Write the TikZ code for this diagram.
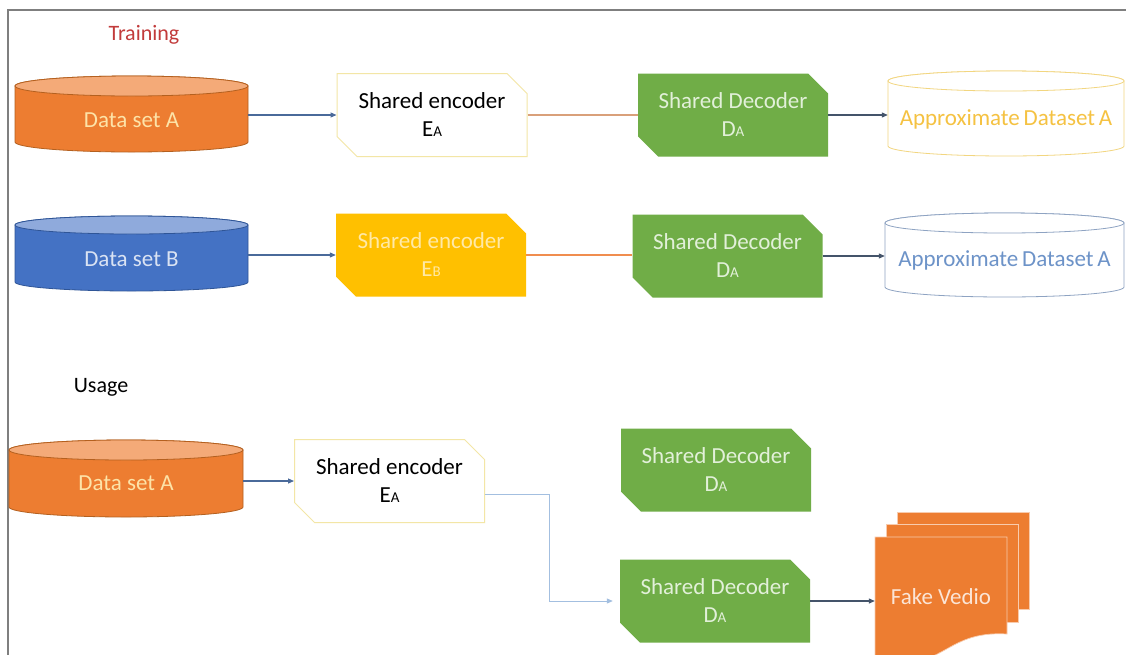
\documentclass[tikz,border=0pt]{standalone}
\usepackage{fontspec}
\setmainfont{Carlito}
\usetikzlibrary{shapes.misc,arrows.meta,calc}
\definecolor{orangeF}{HTML}{ED7D31}
\definecolor{orangeT}{HTML}{F4AA78}
\definecolor{orangeD}{HTML}{B4601F}
\definecolor{blueF}{HTML}{4472C4}
\definecolor{blueT}{HTML}{8FAADC}
\definecolor{blueD}{HTML}{2F5597}
\definecolor{greenF}{HTML}{70AD47}
\definecolor{greenT}{HTML}{E2F0D9}
\definecolor{goldF}{HTML}{FFC000}
\definecolor{goldT}{HTML}{FFE9A6}
\definecolor{encline}{HTML}{F3E6A6}
\definecolor{dsA}{HTML}{FDE3A8}
\definecolor{dsB}{HTML}{DAE3F3}
\definecolor{appAline}{HTML}{F2D680}
\definecolor{appAtext}{HTML}{F5C242}
\definecolor{appBline}{HTML}{8EA3C2}
\definecolor{appBtext}{HTML}{6D93C8}
\definecolor{arrowA}{HTML}{4A6A9A}
\definecolor{arrowB}{HTML}{44546A}
\definecolor{lineA}{HTML}{D9A07A}
\definecolor{lineB}{HTML}{F08D4F}
\definecolor{lineC}{HTML}{A3BFE0}
\definecolor{redT}{HTML}{C23B3B}
\definecolor{frameC}{HTML}{7F7F7F}
\definecolor{docline}{HTML}{F8CBAD}
\definecolor{fakeT}{HTML}{FBE5D6}
\newcommand\sm[1]{{\fontsize{15}{15}\selectfont #1}}
% x1 y1 x2 y2 ry bodyfill topfill drawcolor
\newcommand\cyldraw[8]{%
  \pgfmathsetmacro\cxm{(#1+#3)/2}%
  \pgfmathsetmacro\crx{(#3-#1)/2}%
  \path[fill=#6,draw=#8,line width=0.8pt] (#1,#2+#5) -- (#1,#4-#5)
     arc[start angle=180,end angle=360,x radius=\crx pt,y radius=#5pt]
     -- (#3,#2+#5)
     arc[start angle=0,end angle=180,x radius=\crx pt,y radius=#5pt] -- cycle;
  \path[fill=#7,draw=#8,line width=0.8pt] (\cxm,#2+#5) ellipse[x radius=\crx pt,y radius=#5pt];
}
\tikzset{
  base/.style={font=\fontsize{23}{28}\selectfont, align=center, inner sep=0pt},
  snip/.style={base, chamfered rectangle, chamfered rectangle corners={north east,south west},
     chamfered rectangle xsep=10pt, chamfered rectangle ysep=10pt,
     minimum width=190pt, minimum height=83pt},
  enc/.style={snip, fill=white, draw=encline, line width=1pt, text=black},
  encb/.style={snip, fill=goldF, text=goldT},
  dec/.style={snip, fill=greenF, text=greenT},
  holder/.style={base, rectangle, minimum height=60pt},
  arr/.style={-{Triangle[length=6pt,width=5pt]}, line width=1.1pt, draw=arrowA},
  arrd/.style={-{Triangle[length=6pt,width=5pt]}, line width=1.1pt, draw=arrowB},
  link/.style={line width=1.2pt},
  title/.style={base, font=\fontsize{22}{26}\selectfont}
}
\begin{document}
\begin{tikzpicture}[x=1pt,y=-1pt]
\useasboundingbox (0,0) rectangle (1126,654);
\fill[white] (0,0) rectangle (1126,654);
\draw[frameC, line width=1.5pt] (8,660) -- (8,10) -- (1130,10);

\node[title, text=redT] (ttrain) at (144,35) {Training};
\node[title, text=black] (tusage) at (101,387) {Usage};

% ---- row 1
\cyldraw{15}{76}{248}{152}{10}{orangeF}{orangeT}{orangeD}
\node[holder, minimum width=233pt, text=dsA] (cylA1) at (131.5,120) {Data set A};
\node[enc] (encA1) at (432,115) {Shared encoder\\E\sm{A}};
\node[dec] (decA1) at (733,115) {Shared Decoder\\D\sm{A}};
\cyldraw{888}{71}{1124}{156}{10}{white}{white}{appAline}
\node[holder, minimum width=236pt, text=appAtext] (appA1) at (1006,119) {Approximate\,Dataset\,A};

\draw[arr] (cylA1.east |- encA1.west) -- (encA1.west);
\draw[link, lineA] (encA1.east) -- (decA1.west |- encA1.east);
\draw[arrd] (decA1.east) -- (appA1.west |- decA1.east);

% ---- row 2
\cyldraw{15}{216}{248}{291}{9}{blueF}{blueT}{blueD}
\node[holder, minimum width=233pt, text=dsB] (cylB) at (131.5,259) {Data set B};
\node[encb] (encB) at (431,255) {Shared encoder\\E\sm{B}};
\node[dec] (decA2) at (727.5,256) {Shared Decoder\\D\sm{A}};
\cyldraw{885}{213}{1124}{297}{10}{white}{white}{appBline}
\node[holder, minimum width=239pt, text=appBtext] (appA2) at (1004.5,260) {Approximate\,Dataset\,A};

\draw[arr] (cylB.east |- encB.west) -- (encB.west);
\draw[link, lineB] (encB.east) -- (decA2.west |- encB.east);
\draw[arrd] (decA2.east) -- (appA2.west |- decA2.east);

% ---- row 3
\cyldraw{9}{440}{243}{517}{10}{orangeF}{orangeT}{orangeD}
\node[holder, minimum width=234pt, text=dsA] (cylA3) at (126,483) {Data set A};
\node[enc] (encA3) at (389.5,481) {Shared encoder\\E\sm{A}};
\node[dec] (decT) at (716,470) {Shared Decoder\\D\sm{A}};
\node[dec] (decB) at (715,601) {Shared Decoder\\D\sm{A}};

% fake video multi-document
\path[fill=orangeF, draw=docline, line width=0.7pt] (897,512) rectangle (1029,609);
\path[fill=orangeF, draw=docline, line width=0.7pt] (886,524) rectangle (1018,622);
\path[fill=orangeF, draw=docline, line width=0.7pt] (875,537) -- (1007,537) -- (1007,634)
   .. controls (941,630) and (945,676) .. (875,658) -- cycle;
\node[base, rectangle, minimum width=132pt, minimum height=90pt, text=fakeT] (fake) at (941,597) {Fake Vedio};

\draw[arr] (cylA3.east |- encA3.west) -- (encA3.west);
\draw[-{Triangle[length=6pt,width=5pt]}, line width=1pt, lineC, shorten >=7pt]
   ($(encA3.east)+(0,13)$) -- ++(64,0) |- (decB.west);
\draw[arrd] (decB.east) -- (fake.west |- decB.east);
\end{tikzpicture}
\end{document}
